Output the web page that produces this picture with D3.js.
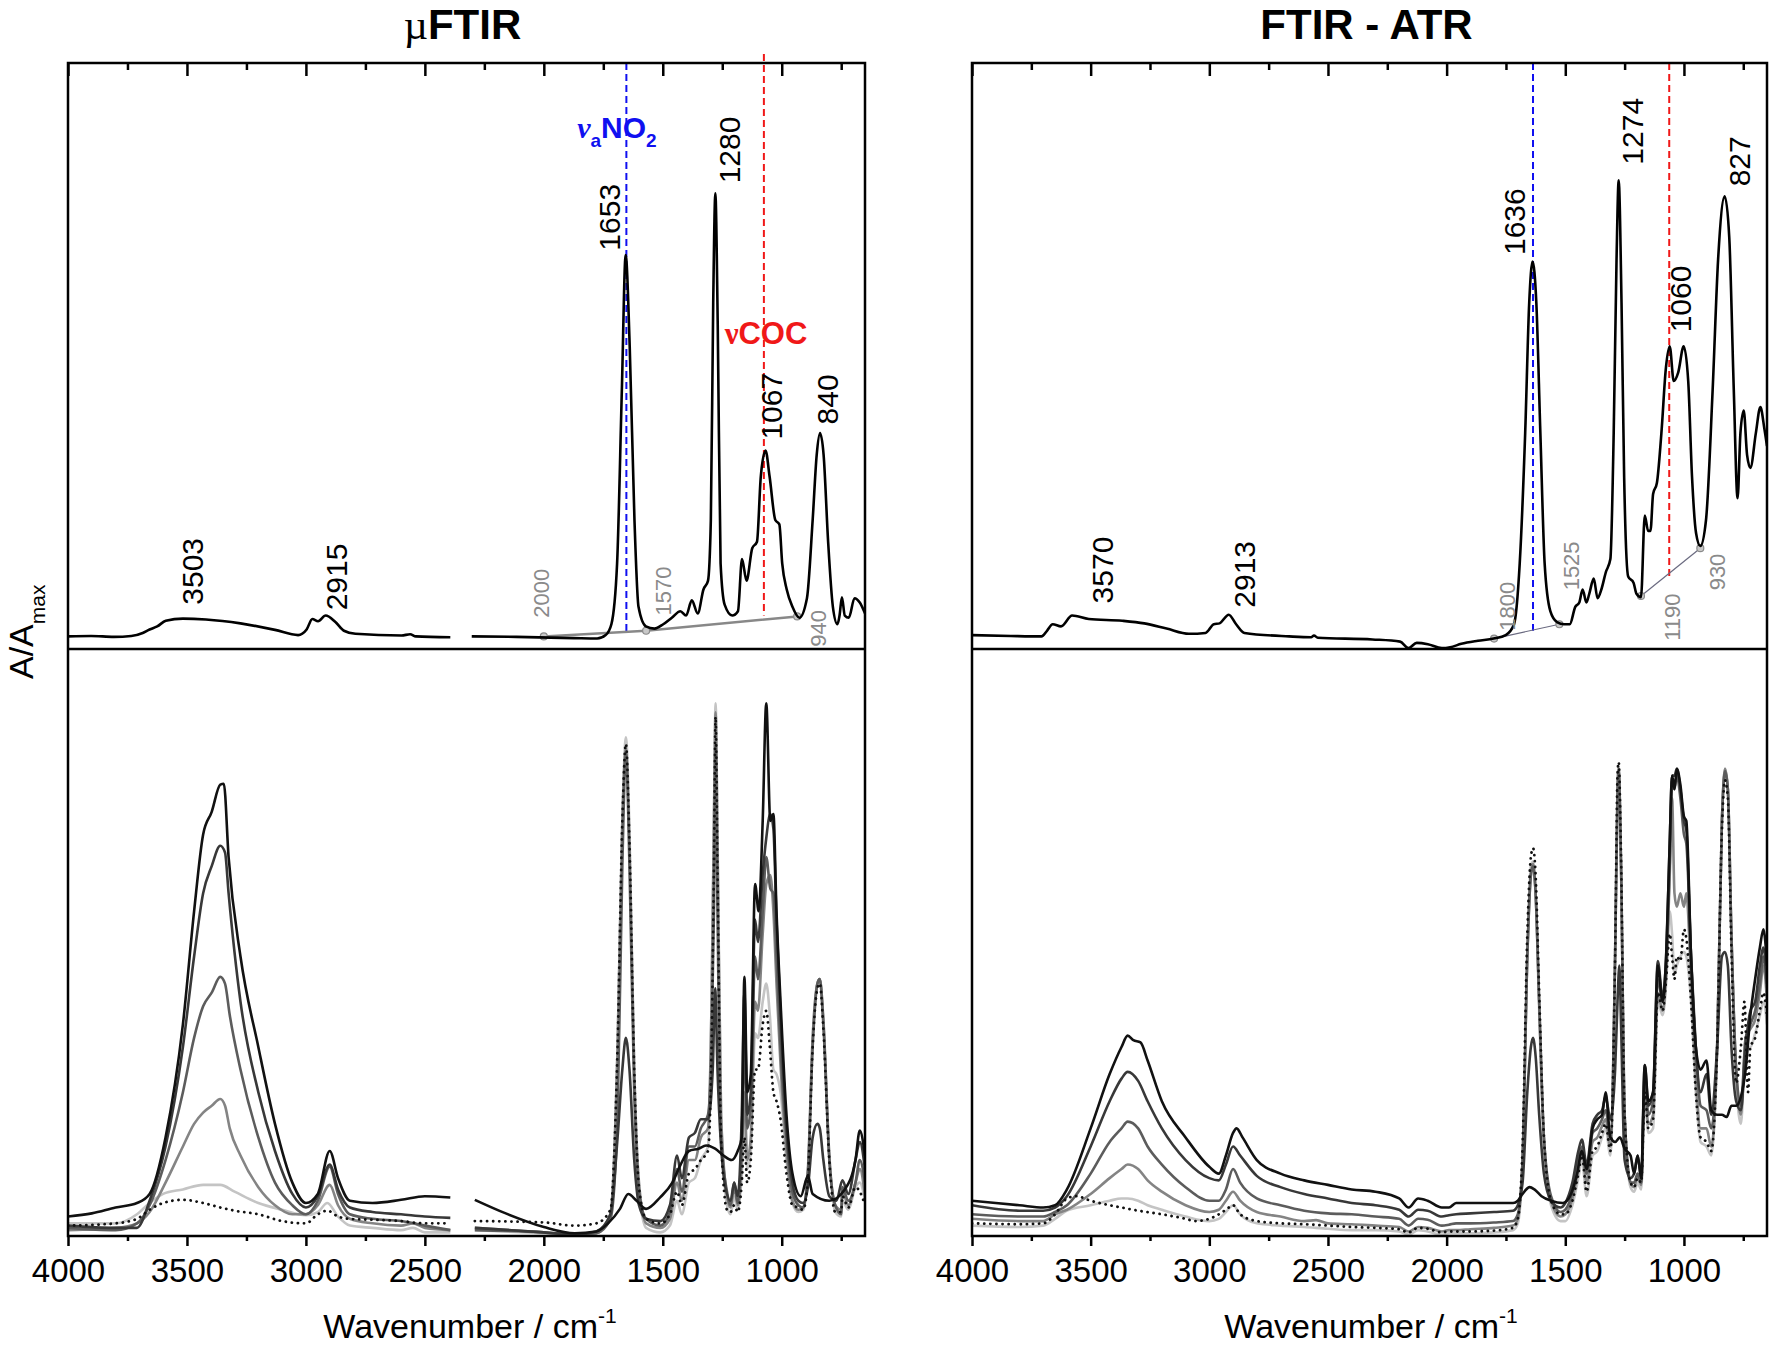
<!DOCTYPE html>
<html><head><meta charset="utf-8">
<script src="https://cdn.jsdelivr.net/npm/d3@7"></script>
<style>body{margin:0;background:#fff}svg{display:block}</style>
</head><body>
<script>
// ---------- DATA (wavenumber cm-1, intensity a.u.) ----------
const majorTicks = [4000,3500,3000,2500,2000,1500,1000];
const minorTicks = [3750,3250,2750,2250,1750,1250,750];
const panelTitles = ["\u00B5FTIR","FTIR - ATR"];

// reference spectra (top panels); null = gap
const uftirRef = [[4000,29],[3903,30],[3807,28],[3734,30],[3686,37],[3657,45],[3625,52],[3589,65],[3517,70],[3420,68],[3275,59],[3130,44],[3033,32],[2997,45],[2973,69],[2949,64],[2917,77],[2876,62],[2840,42],[2792,35],[2598,31],[2562,34],[2538,29],[2393,27],[2350,null],[2303,29],[2115,28],[1873,25],[1776,24],[1740,32],[1716,57],[1692,197],[1672,597],[1656,907],[1639,697],[1619,297],[1602,97],[1571,52],[1535,47],[1498,57],[1462,72],[1426,87],[1402,77],[1378,112],[1353,82],[1329,137],[1310,157],[1298,297],[1288,797],[1279,1049],[1269,747],[1257,197],[1240,102],[1208,77],[1184,87],[1167,207],[1148,157],[1124,232],[1104,247],[1088,397],[1068,457],[1051,397],[1027,297],[1010,287],[998,197],[979,137],[955,97],[926,72],[894,117],[870,297],[853,447],[839,497],[824,447],[805,247],[785,97],[766,57],[757,77],[747,119],[735,77],[718,72],[694,117],[672,107],[650,82]];
const atrRef = [[4000,32],[3836,30],[3707,29],[3684,42],[3660,57],[3625,52],[3578,77],[3508,69],[3367,65],[3274,59],[3180,47],[3086,35],[3016,37],[2981,57],[2957,59],[2918,79],[2887,57],[2852,37],[2664,29],[2571,27],[2559,31],[2543,26],[2313,22],[2196,17],[2161,2],[2126,14],[2079,11],[2020,2],[1985,4],[1938,12],[1868,19],[1802,24],[1751,32],[1716,57],[1692,197],[1669,497],[1652,797],[1638,892],[1622,797],[1605,497],[1587,197],[1563,87],[1535,62],[1505,57],[1481,57],[1458,97],[1441,107],[1427,137],[1411,107],[1399,127],[1380,162],[1364,117],[1348,137],[1329,177],[1310,207],[1296,497],[1284,897],[1275,1079],[1263,797],[1252,397],[1235,167],[1212,152],[1200,127],[1181,119],[1165,307],[1151,272],[1141,272],[1130,357],[1114,382],[1095,497],[1076,647],[1060,697],[1043,617],[1024,637],[1001,697],[982,617],[966,397],[949,267],[931,237],[907,297],[879,597],[856,897],[828,1042],[809,947],[790,597],[774,347],[762,497],[748,549],[734,447],[720,417],[697,497],[678,557],[661,507],[650,467]];

// integration baselines (grey)
const uftirBase = [[[2000,29],[1570,42],[935,75]]];
const atrBase = [[[1800,24],[1525,57]],[[1181,122],[931,232]]];

// marker lines [wn, from, to]
const uftirMarkers = [{wn:1653,from:1349,to:35,color:"blue"},{wn:1075,from:1370,to:77,color:"red"}];
const atrMarkers = [{wn:1636,from:1349,to:42,color:"blue"},{wn:1062,from:1349,to:167,color:"red"}];

// peak labels [text, wn, value]
const uftirPeaks = [["3503",3432,102],["2915",2827,89],["1653",1680,917],["1280",1175,1072],["1067",999,482],["840",763,517]];
const uftirLimits = [["2000",1978,72],["1570",1465,77],["940",814,5]];
const atrPeaks = [["3570",3404,105],["2913",2807,95],["1636",1670,907],["1274",1172,1115],["1060",970,729],["827",721,1065]];
const atrLimits = [["1800",1712,42],["1525",1442,135],["1190",1016,19],["930",829,135]];

// bottom panels: six spectra each
const uftirS1 = [[4000,43],[3900,50],[3800,63],[3710,73],[3657,93],[3590,218],[3517,468],[3470,718],[3432,888],[3396,938],[3360,998],[3345,1000],[3325,838],[3275,618],[3200,418],[3130,248],[3057,118],[3000,73],[2950,93],[2900,188],[2865,128],[2815,78],[2720,73],[2600,80],[2500,88],[2393,85],[2350,null],[2290,80],[2160,50],[2000,20],[1870,6],[1780,10],[1730,28],[1680,60],[1645,93],[1610,78],[1570,60],[1510,86],[1460,118],[1425,158],[1390,188],[1350,193],[1318,200],[1280,193],[1245,178],[1210,168],[1185,188],[1168,218],[1157,573],[1145,318],[1130,358],[1112,778],[1097,718],[1080,918],[1065,1178],[1048,918],[1035,933],[1022,718],[1005,518],[980,268],[955,138],[920,88],[890,133],[870,93],[800,78],[735,103],[690,168],[672,233],[650,178]];
const uftirS2 = [[4000,23],[3800,18],[3710,18],[3657,78],[3590,198],[3517,418],[3470,618],[3432,758],[3396,818],[3360,863],[3340,848],[3325,758],[3275,518],[3200,318],[3130,188],[3057,93],[3000,63],[2950,88],[2900,158],[2865,103],[2815,63],[2720,53],[2600,48],[2500,43],[2393,40],[2350,null],[2290,18],[2000,8],[1870,3],[1780,10],[1720,48],[1690,218],[1670,368],[1655,438],[1640,368],[1620,168],[1600,68],[1570,38],[1510,33],[1470,68],[1440,178],[1420,128],[1390,218],[1365,228],[1340,258],[1310,258],[1290,368],[1280,548],[1270,368],[1240,118],[1215,78],[1200,118],[1185,88],[1168,268],[1157,538],[1145,268],[1130,318],[1112,700],[1100,650],[1080,800],[1065,880],[1048,933],[1035,900],[1022,700],[1005,488],[980,238],[955,118],[930,78],[910,73],[890,108],[870,218],[850,248],[840,238],[825,168],[800,88],[770,78],[745,123],[720,93],[690,168],[672,208],[650,148]];
const uftirS3 = [[4000,18],[3800,13],[3710,28],[3657,68],[3590,168],[3517,318],[3470,438],[3432,508],[3396,538],[3360,573],[3340,558],[3320,488],[3275,368],[3200,218],[3130,118],[3057,68],[3000,48],[2950,78],[2900,153],[2865,93],[2815,48],[2720,38],[2600,33],[2500,23],[2393,13],[2350,null],[2290,13],[2000,8],[1870,3],[1780,6],[1720,38],[1690,268],[1670,818],[1655,1068],[1640,818],[1620,318],[1600,98],[1570,38],[1510,23],[1470,53],[1440,148],[1420,98],[1390,198],[1365,198],[1340,238],[1310,268],[1295,418],[1285,718],[1278,1088],[1270,718],[1255,218],[1230,98],[1215,68],[1200,118],[1185,73],[1168,218],[1157,418],[1145,238],[1130,288],[1112,618],[1100,568],[1080,718],[1065,838],[1048,768],[1035,758],[1022,618],[1005,418],[980,218],[955,98],[930,68],[910,63],[890,138],[870,418],[850,558],[840,568],[825,468],[800,168],[775,68],[750,48],[745,108],[720,78],[690,118],[672,168],[650,118]];
const uftirS4 = [[4000,13],[3800,18],[3710,28],[3657,53],[3590,118],[3517,198],[3470,248],[3432,273],[3396,288],[3360,303],[3340,288],[3320,238],[3275,178],[3200,108],[3130,68],[3057,48],[3000,48],[2950,68],[2900,113],[2865,68],[2815,38],[2720,28],[2600,23],[2550,28],[2500,18],[2393,13],[2350,null],[2290,18],[2000,8],[1870,3],[1780,6],[1720,48],[1690,418],[1670,918],[1655,1078],[1640,868],[1620,368],[1600,118],[1570,28],[1510,18],[1470,38],[1440,118],[1420,78],[1390,168],[1365,168],[1340,218],[1310,238],[1295,518],[1285,918],[1278,1158],[1270,868],[1255,268],[1230,88],[1215,63],[1200,108],[1185,68],[1168,168],[1157,318],[1145,168],[1130,218],[1112,518],[1100,498],[1080,668],[1065,778],[1048,798],[1035,718],[1022,558],[1005,378],[980,188],[955,78],[930,58],[910,63],[890,148],[870,438],[850,558],[840,568],[825,478],[800,178],[775,68],[750,58],[745,98],[720,68],[690,118],[672,148],[650,88]];
const uftirS5 = [[4000,28],[3800,28],[3710,48],[3657,73],[3600,93],[3517,103],[3432,113],[3360,113],[3300,98],[3200,73],[3100,58],[3000,46],[2950,53],[2910,73],[2865,43],[2815,23],[2720,18],[2600,13],[2550,18],[2500,8],[2393,8],[2350,null],[2290,13],[2000,6],[1870,3],[1780,6],[1720,48],[1690,418],[1670,918],[1655,1103],[1640,898],[1620,368],[1600,98],[1570,18],[1510,8],[1470,23],[1440,78],[1420,48],[1390,118],[1365,128],[1340,168],[1310,198],[1295,518],[1285,918],[1278,1178],[1270,898],[1255,268],[1230,68],[1215,48],[1200,88],[1185,58],[1168,138],[1157,268],[1145,148],[1130,188],[1112,448],[1100,438],[1080,518],[1065,558],[1050,488],[1035,368],[1022,358],[1005,318],[980,168],[955,73],[930,53],[910,58],[890,138],[870,438],[850,558],[840,568],[825,478],[800,178],[775,53],[750,43],[745,78],[720,58],[690,108],[672,118],[650,78]];
const uftirS6 = [[4000,23],[3800,28],[3710,38],[3657,58],[3600,73],[3517,80],[3432,73],[3360,63],[3300,56],[3200,48],[3100,33],[3000,28],[2950,48],[2910,56],[2865,43],[2815,38],[2720,36],[2600,33],[2500,28],[2393,28],[2350,null],[2290,33],[2000,30],[1870,23],[1780,28],[1720,58],[1690,418],[1670,918],[1655,1088],[1640,868],[1620,368],[1600,108],[1570,38],[1510,28],[1470,48],[1440,98],[1420,68],[1390,138],[1365,148],[1340,168],[1310,188],[1295,418],[1285,818],[1278,1148],[1270,818],[1255,218],[1230,58],[1215,53],[1200,68],[1185,53],[1168,118],[1157,218],[1145,118],[1130,168],[1112,368],[1100,368],[1080,468],[1065,498],[1050,418],[1035,318],[1022,298],[1005,258],[980,138],[955,68],[930,63],[910,58],[890,128],[870,418],[850,548],[840,558],[825,458],[800,168],[775,53],[750,53],[745,88],[720,63],[690,108],[672,98],[650,68]];

const atrS1 = [[4000,78],[3800,68],[3700,63],[3650,68],[3600,103],[3500,238],[3420,358],[3370,418],[3344,443],[3320,433],[3290,428],[3260,388],[3200,298],[3100,218],[3000,153],[2960,138],[2930,178],[2900,228],[2885,238],[2860,218],[2800,168],[2700,138],[2600,123],[2500,113],[2400,103],[2300,98],[2200,83],[2160,63],[2120,83],[2080,78],[2020,63],[1990,63],[1960,73],[1900,73],[1800,73],[1720,73],[1700,78],[1680,93],[1650,108],[1630,103],[1600,88],[1560,78],[1510,73],[1480,88],[1450,138],[1430,188],[1410,148],[1385,238],[1365,258],[1345,268],[1330,318],[1310,218],[1290,208],[1270,218],[1250,193],[1225,178],[1210,138],[1195,178],[1180,128],[1165,378],[1150,298],[1130,318],[1110,598],[1090,518],[1075,618],[1060,868],[1050,1018],[1040,988],[1030,1033],[1015,998],[1000,928],[990,918],[970,618],[950,418],[930,368],[905,388],[885,278],[860,268],[840,268],[820,263],[800,288],[780,288],[760,308],[740,368],[720,488],[700,568],[680,638],[665,678],[650,598]];
const atrS2 = [[4000,68],[3800,56],[3700,56],[3650,63],[3600,88],[3500,198],[3420,298],[3370,348],[3344,363],[3300,343],[3260,298],[3200,238],[3100,168],[3000,128],[2960,123],[2930,158],[2900,198],[2870,178],[2800,133],[2700,108],[2600,93],[2500,83],[2400,73],[2300,68],[2200,58],[2160,43],[2120,58],[2080,56],[2020,43],[1990,46],[1960,48],[1900,50],[1800,53],[1720,56],[1700,68],[1680,118],[1660,318],[1645,418],[1636,438],[1625,398],[1610,268],[1590,138],[1560,78],[1520,63],[1500,73],[1470,118],[1445,188],[1430,213],[1410,158],[1385,248],[1365,268],[1345,278],[1330,308],[1310,258],[1290,368],[1280,518],[1272,598],[1265,468],[1250,168],[1225,128],[1210,138],[1195,178],[1180,128],[1165,378],[1150,288],[1130,318],[1110,608],[1090,528],[1075,618],[1060,868],[1050,1018],[1040,1018],[1030,1033],[1015,988],[1000,918],[990,898],[970,618],[950,418],[930,318],[905,358],[885,268],[860,418],[840,618],[827,628],[815,598],[800,418],[780,298],[760,278],[740,418],[720,498],[700,518],[680,598],[665,638],[650,558]];
const atrS3 = [[4000,48],[3800,43],[3700,43],[3650,53],[3600,68],[3500,138],[3420,208],[3370,238],[3344,253],[3300,238],[3260,198],[3200,158],[3100,108],[3000,78],[2960,78],[2930,103],[2900,148],[2870,118],[2800,83],[2700,68],[2600,56],[2500,50],[2400,48],[2300,43],[2200,38],[2160,23],[2120,38],[2080,36],[2020,23],[1990,25],[1960,28],[1900,28],[1800,30],[1720,33],[1700,48],[1680,168],[1660,618],[1645,798],[1636,818],[1625,758],[1610,518],[1590,218],[1560,88],[1520,53],[1500,58],[1470,98],[1445,168],[1430,198],[1410,138],[1385,228],[1365,238],[1345,258],[1330,278],[1310,218],[1290,618],[1280,968],[1275,1028],[1265,818],[1250,268],[1225,118],[1210,118],[1195,138],[1180,118],[1165,358],[1150,268],[1130,298],[1110,568],[1090,518],[1075,598],[1060,818],[1050,998],[1040,988],[1030,1018],[1015,968],[1000,888],[990,868],[970,618],[950,418],[930,288],[905,278],[885,238],[860,418],[840,918],[827,1028],[815,988],[800,668],[780,368],[760,288],[740,438],[720,468],[700,498],[680,558],[665,618],[650,548]];
const atrS4 = [[4000,38],[3800,33],[3700,33],[3650,48],[3600,58],[3500,93],[3420,128],[3370,148],[3344,158],[3300,148],[3260,123],[3200,98],[3100,68],[3000,53],[2960,58],[2930,78],[2900,98],[2870,78],[2800,53],[2700,43],[2600,33],[2550,35],[2500,28],[2400,26],[2300,23],[2200,20],[2160,10],[2120,20],[2080,18],[2020,10],[1990,13],[1960,13],[1900,15],[1800,18],[1720,23],[1700,38],[1680,168],[1660,618],[1645,798],[1636,823],[1625,758],[1610,518],[1590,218],[1560,78],[1520,43],[1500,48],[1470,83],[1445,148],[1430,188],[1410,118],[1385,208],[1365,218],[1345,243],[1330,258],[1310,198],[1290,618],[1280,988],[1275,1033],[1265,818],[1250,268],[1225,118],[1210,108],[1195,133],[1180,113],[1165,318],[1150,248],[1130,268],[1110,538],[1090,498],[1075,578],[1060,798],[1050,968],[1040,758],[1030,728],[1015,758],[1000,728],[990,758],[970,568],[950,358],[930,238],[905,238],[885,198],[860,418],[840,918],[827,1033],[815,988],[800,668],[780,368],[760,268],[740,438],[720,458],[700,478],[680,538],[665,598],[650,518]];
const atrS5 = [[4000,23],[3800,20],[3700,23],[3650,38],[3600,56],[3500,68],[3420,78],[3370,83],[3344,83],[3300,78],[3260,68],[3200,58],[3100,43],[3000,33],[2960,38],[2930,53],[2900,68],[2870,48],[2800,28],[2700,23],[2600,20],[2500,16],[2400,13],[2300,13],[2200,10],[2160,3],[2120,13],[2080,10],[2020,3],[1990,6],[1960,6],[1900,6],[1800,8],[1720,13],[1700,28],[1680,168],[1660,618],[1645,818],[1636,828],[1625,758],[1610,498],[1590,198],[1560,68],[1520,33],[1500,33],[1470,68],[1445,128],[1430,168],[1410,88],[1385,178],[1365,188],[1345,218],[1330,238],[1310,178],[1290,618],[1280,998],[1275,1038],[1265,818],[1250,268],[1225,108],[1210,98],[1195,118],[1180,103],[1165,308],[1150,228],[1130,238],[1110,518],[1090,488],[1075,558],[1060,718],[1050,668],[1040,578],[1030,598],[1015,618],[1000,628],[990,618],[970,518],[950,318],[930,208],[905,198],[885,178],[860,418],[840,918],[827,1033],[815,988],[800,668],[780,348],[760,248],[740,418],[720,418],[700,448],[680,488],[665,518],[650,468]];
const atrS6 = [[4000,28],[3800,26],[3700,28],[3650,48],[3600,83],[3560,88],[3500,78],[3420,68],[3370,63],[3300,56],[3200,48],[3100,38],[3060,33],[3000,38],[2960,48],[2930,58],[2900,68],[2870,48],[2800,33],[2700,28],[2600,26],[2500,23],[2400,20],[2300,18],[2200,15],[2160,8],[2120,18],[2080,16],[2020,8],[1990,10],[1960,10],[1900,10],[1800,12],[1720,18],[1700,38],[1680,198],[1660,668],[1645,838],[1636,858],[1625,798],[1610,538],[1590,218],[1560,78],[1520,48],[1500,48],[1470,78],[1445,138],[1430,178],[1410,98],[1385,188],[1365,198],[1345,228],[1330,248],[1310,188],[1290,618],[1280,1018],[1275,1048],[1265,838],[1250,268],[1225,118],[1210,108],[1195,128],[1180,118],[1165,318],[1150,238],[1130,258],[1110,538],[1090,498],[1075,568],[1060,668],[1050,618],[1040,568],[1030,618],[1015,608],[1000,678],[990,658],[970,518],[950,318],[930,218],[905,208],[885,188],[860,418],[840,898],[827,1008],[815,968],[800,638],[780,338],[760,418],[745,518],[730,318],[720,418],[700,438],[680,498],[665,538],[650,488]];

// ---------- LAYOUT ----------
const W = 1772, H = 1348;
const FONT = "'Liberation Sans', Arial, sans-serif";
const SERIF = "'Liberation Serif', 'DejaVu Serif', serif";
const topY0 = 63, midY = 649, botY1 = 1236;
const panels = [
  {x0:68, x1:865, title:panelTitles[0], ref:uftirRef, base:uftirBase, markers:uftirMarkers, peaks:uftirPeaks, limits:uftirLimits,
   series:[uftirS5,uftirS4,uftirS3,uftirS2,uftirS1,uftirS6], baseW:2.5, baseColor:"#888"},
  {x0:972, x1:1767, title:panelTitles[1], ref:atrRef, base:atrBase, markers:atrMarkers, peaks:atrPeaks, limits:atrLimits,
   series:[atrS5,atrS4,atrS3,atrS2,atrS1,atrS6], baseW:1.2, baseColor:"#6a6a80"}
];
const seriesStyle = [
  {c:"#c4c4c4"},{c:"#848484"},{c:"#5c5c5c"},{c:"#383838"},{c:"#111"},{c:"#111",dot:true}
];

const svg = d3.select("body").append("svg").attr("width",W).attr("height",H);
const defs = svg.append("defs");

panels.forEach((p,i)=>{
  const x = d3.scaleLinear().domain([4000,650]).range([p.x0,p.x1]);
  const yT = d3.scaleLinear().domain([0,1349]).range([midY,topY0]);
  const yB = d3.scaleLinear().domain([0,1298]).range([botY1,midY]);
  const g = svg.append("g");

  ["t","b"].forEach(k=>{
    defs.append("clipPath").attr("id",`clip${k}${i}`).append("rect")
      .attr("x",p.x0).attr("y",k==="t"?topY0:midY).attr("width",p.x1-p.x0)
      .attr("height",k==="t"?midY-topY0:botY1-midY);
  });

  // title
  const t = g.append("text").attr("x",(p.x0+p.x1)/2 - (i===0?4:3)).attr("y",39)
    .attr("text-anchor","middle").attr("font-family",FONT).attr("font-weight","bold")
    .attr("font-size",42).attr("fill","#000");
  if (p.title.startsWith("\u00B5")) {
    t.append("tspan").attr("font-family",SERIF).attr("font-weight","normal").text("\u00B5");
    t.append("tspan").text(p.title.slice(1));
  } else t.text(p.title);

  // marker lines
  p.markers.forEach(m=>{
    g.append("line").attr("x1",x(m.wn)).attr("x2",x(m.wn))
      .attr("y1",yT(m.from)).attr("y2",yT(m.to))
      .attr("stroke",m.color==="blue"?"#1010f0":"#f01818").attr("stroke-width",2)
      .attr("stroke-dasharray","7,4");
  });

  // baselines
  const lineT = d3.line().defined(d=>d[1]!==null).x(d=>x(d[0])).y(d=>yT(d[1]));
  p.base.forEach(seg=>{
    g.append("path").attr("d",lineT(seg)).attr("fill","none")
      .attr("stroke",p.baseColor).attr("stroke-width",p.baseW);
    seg.forEach(d=>g.append("circle").attr("cx",x(d[0])).attr("cy",yT(d[1])).attr("r",3.5)
      .attr("fill","#c8c8c8").attr("stroke","#8a8a8a").attr("stroke-width",1.2));
  });

  // reference spectrum
  const lineTc = d3.line().defined(d=>d[1]!==null).x(d=>x(d[0])).y(d=>yT(d[1])).curve(d3.curveMonotoneX);
  g.append("path").attr("clip-path",`url(#clipt${i})`).attr("d",lineTc(p.ref))
    .attr("fill","none").attr("stroke","#000").attr("stroke-width",2.6).attr("stroke-linejoin","round");

  // bottom spectra
  const lineB = d3.line().defined(d=>d[1]!==null).x(d=>x(d[0])).y(d=>yB(d[1])).curve(d3.curveMonotoneX);
  p.series.forEach((s,j)=>{
    const st = seriesStyle[j];
    const path = g.append("path").attr("clip-path",`url(#clipb${i})`).attr("d",lineB(s))
      .attr("fill","none").attr("stroke",st.c).attr("stroke-width",st.dot?2.8:2.6).attr("stroke-linejoin","round");
    if (st.dot) path.attr("stroke-dasharray","0.1,6").attr("stroke-linecap","round");
  });

  // peak labels
  p.peaks.forEach(d=>{
    g.append("text").attr("transform",`translate(${x(d[1])},${yT(d[2])}) rotate(-90)`)
      .attr("font-family",FONT).attr("font-size",30).attr("fill","#000").text(d[0]);
  });
  p.limits.forEach(d=>{
    g.append("text").attr("transform",`translate(${x(d[1])},${yT(d[2])}) rotate(-90)`)
      .attr("font-family",FONT).attr("font-size",22).attr("fill","#8a8a8a").text(d[0]);
  });

  // frames
  g.append("rect").attr("x",p.x0).attr("y",topY0).attr("width",p.x1-p.x0).attr("height",botY1-topY0)
    .attr("fill","none").attr("stroke","#000").attr("stroke-width",2.5);
  g.append("line").attr("x1",p.x0).attr("x2",p.x1).attr("y1",midY).attr("y2",midY)
    .attr("stroke","#000").attr("stroke-width",2.5);

  // axes
  const styleAxis = sel=>{ sel.select(".domain").remove(); sel.selectAll("line").attr("stroke","#000").attr("stroke-width",2.5); };
  g.append("g").attr("transform",`translate(0,${topY0})`)
    .call(d3.axisTop(x).tickValues(majorTicks).tickSize(-13).tickFormat("")).call(styleAxis);
  g.append("g").attr("transform",`translate(0,${topY0})`)
    .call(d3.axisTop(x).tickValues(minorTicks).tickSize(-7).tickFormat("")).call(styleAxis);
  const ax = g.append("g").attr("transform",`translate(0,${botY1})`)
    .call(d3.axisBottom(x).tickValues(majorTicks).tickSize(10).tickFormat(d3.format("d"))).call(styleAxis);
  ax.selectAll("text").attr("y",46).attr("dy",0).attr("font-family",FONT).attr("font-size",33).attr("fill","#000");
  g.append("g").attr("transform",`translate(0,${botY1})`)
    .call(d3.axisBottom(x).tickValues(minorTicks).tickSize(5).tickFormat("")).call(styleAxis);

  // x title
  const xt = g.append("text").attr("x",i===0?470:1371).attr("y",1338).attr("text-anchor","middle")
    .attr("font-family",FONT).attr("font-size",34).attr("fill","#000");
  xt.append("tspan").text("Wavenumber / cm");
  xt.append("tspan").attr("font-size",21).attr("dy",-15).text("-1");

  if (i===0) {
    // annotation labels
    const na = g.append("text").attr("x",x(1860)).attr("y",yT(1177))
      .attr("font-family",FONT).attr("font-weight","bold").attr("font-size",30).attr("fill","#1010f0");
    na.append("tspan").attr("font-family",SERIF).attr("font-style","italic").text("\u03BD");
    na.append("tspan").attr("font-size",19).attr("dy",9).text("a");
    na.append("tspan").attr("dy",-9).text("NO");
    na.append("tspan").attr("font-size",19).attr("dy",9).text("2");
    const nc = g.append("text").attr("x",x(1240)).attr("y",yT(702))
      .attr("font-family",FONT).attr("font-weight","bold").attr("font-size",31).attr("fill","#f01818");
    nc.append("tspan").attr("font-family",SERIF).text("\u03BD");
    nc.append("tspan").text("COC");
  }
});

// y label
const yl = svg.append("text").attr("transform","translate(33,679) rotate(-90)")
  .attr("font-family",FONT).attr("font-size",34).attr("fill","#000");
yl.append("tspan").text("A/A");
yl.append("tspan").attr("font-size",21).attr("dy",12).text("max");
</script>
</body></html>
